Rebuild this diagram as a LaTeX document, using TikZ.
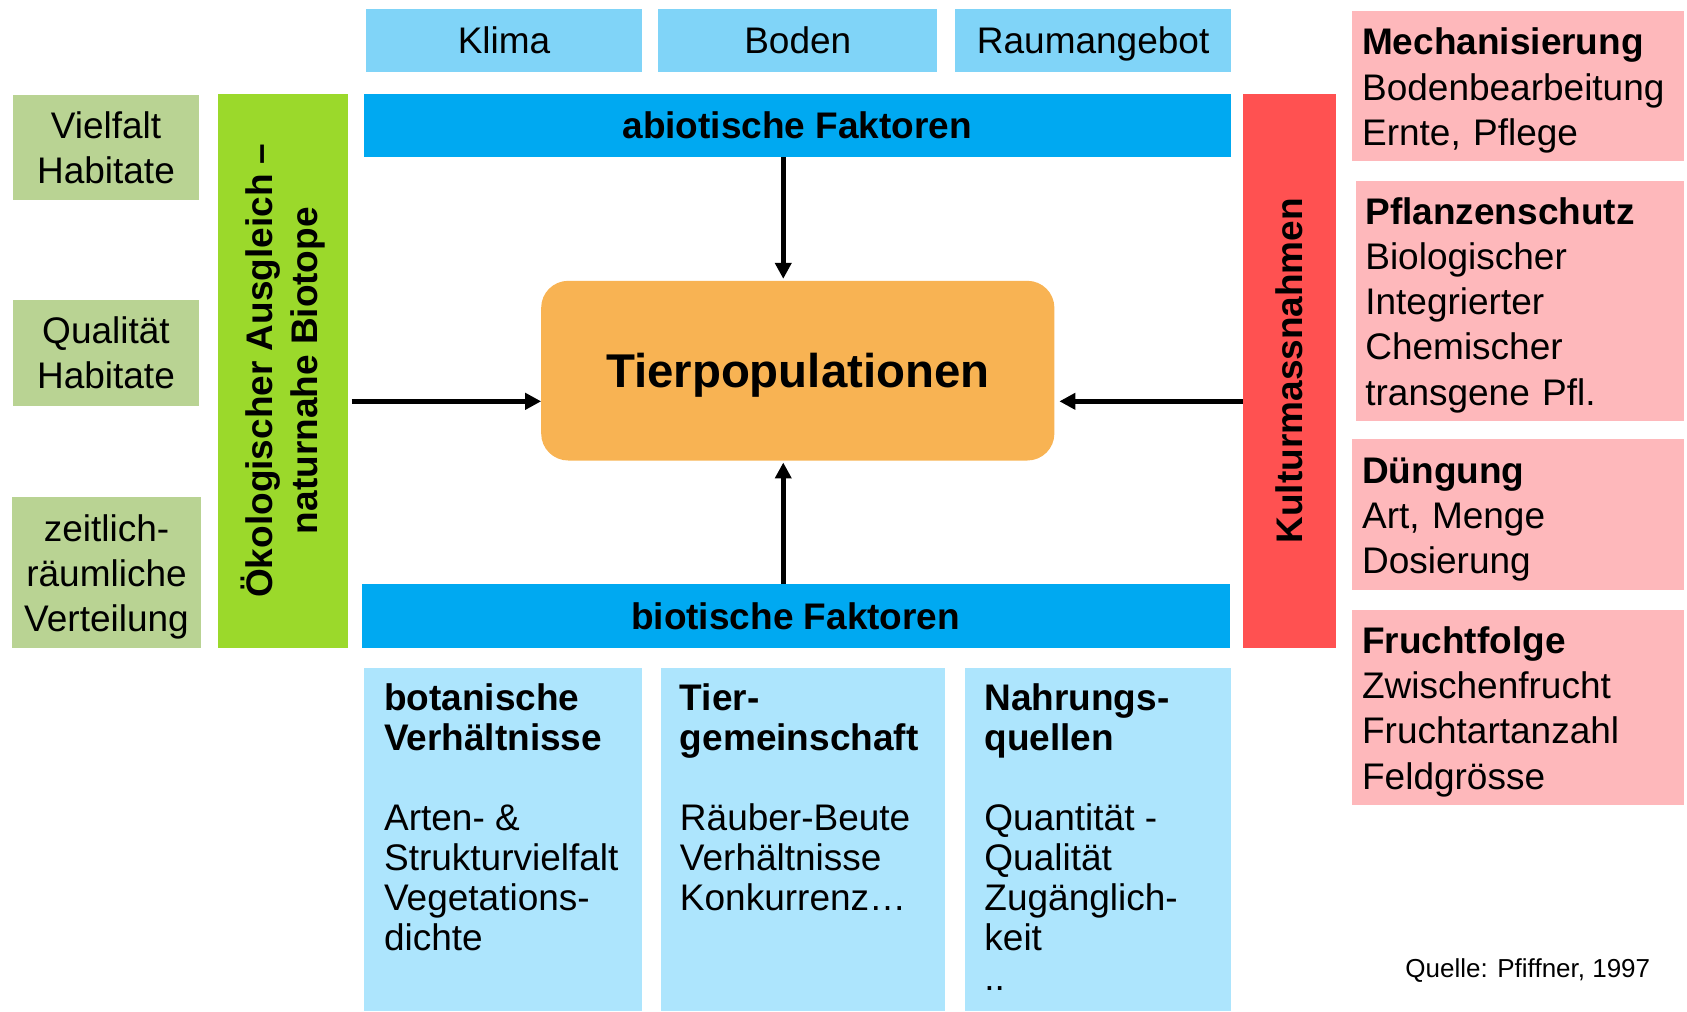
\documentclass[tikz,border=0pt]{standalone}
\usepackage{fontspec}
\setmainfont{Liberation Sans}
\usetikzlibrary{arrows.meta}
\definecolor{topblue}{HTML}{80D4F8}
\definecolor{barblue}{HTML}{00A9F1}
\definecolor{lowblue}{HTML}{ADE5FD}
\definecolor{lgreen}{HTML}{B9D393}
\definecolor{bgreen}{HTML}{9BD92B}
\definecolor{redbar}{HTML}{FF5151}
\definecolor{pinkbox}{HTML}{FEB8BB}
\definecolor{tierorange}{HTML}{F8B353}
\newcommand\basefont{\fontsize{18.5}{22.6}\selectfont}
\newcommand\topstrut{\rule{0pt}{17.8pt}}
\newcommand\mybox[7]{\node[#6, minimum width={(#4-#2)*0.538pt}, minimum height={(#5-#3)*0.538pt}] (#1) at ({(#2+#4)/2},{(#3+#5)/2}) {#7};}
\begin{document}
\begin{tikzpicture}[x=0.538pt,y=-0.538pt,
  every node/.style={inner sep=0pt, outer sep=0pt, font=\basefont},
  arr/.style={line width=2.6pt, -{Triangle[length=8pt,width=8pt]}},
  vtext/.style={rotate=90, align=center, font=\basefont\bfseries},
  topbox/.style={fill=topblue, text depth=0pt},
  pinkstyle/.style={fill=pinkbox, align=left},
  bottext/.style={anchor=base west}]
\useasboundingbox (0,0) rectangle (1568,940);
% top row
\mybox{klima}{340}{8}{597}{67}{topbox}{Klima}
\mybox{boden}{612}{8}{871}{67}{topbox}{Boden}
\mybox{raum}{888}{8}{1144}{67}{topbox}{Raumangebot}
\mybox{abio}{338}{87}{1144}{146}{fill=barblue, font=\basefont\bfseries}{abiotische Faktoren}
% left
\mybox{viel}{12}{88}{185}{186}{fill=lgreen, align=center}{Vielfalt\\Habitate}
\mybox{qual}{12}{279}{185}{377}{fill=lgreen, align=center}{Qualität\\Habitate}
\mybox{zeit}{11}{462}{187}{602}{fill=lgreen, align=center}{\topstrut zeitlich-\\räumliche\\Verteilung}
\mybox{oeko}{203}{87}{323}{602}{fill=bgreen}{}
\node[vtext] (oekotxt) at (oeko.center) {Ökologischer Ausgleich –\\naturnahe Biotope};
% centre
\mybox{tier}{503}{261}{980}{428}{fill=tierorange, rounded corners=13.5pt, text depth=0pt, font=\fontsize{23.7}{28}\selectfont\bfseries}{Tierpopulationen}
\mybox{bio}{336}{543}{1143}{602}{fill=barblue, font=\basefont\bfseries}{biotische Faktoren}
% bottom
\mybox{bot}{338}{621}{597}{940}{fill=lowblue}{}
\mybox{tiergem}{614}{621}{878}{940}{fill=lowblue}{}
\mybox{nahr}{897}{621}{1144}{940}{fill=lowblue}{}
\node[bottext] (bottxt) at (357,660) {\parbox[t]{132pt}{\fontsize{18.5}{20}\selectfont\raggedright
  \textbf{botanische}\\\textbf{Verhältnisse}\\\mbox{}\\Arten- \&\\Strukturvielfalt\\Vegetations-\\dichte}};
\node[bottext] (tiergemtxt) at (632,660) {\parbox[t]{132pt}{\fontsize{18.5}{20}\selectfont\raggedright
  \textbf{Tier-}\\\textbf{gemeinschaft}\\\mbox{}\\Räuber-Beute\\Verhältnisse\\Konkurrenz…}};
\node[bottext] (nahrtxt) at (915,660) {\parbox[t]{125pt}{\fontsize{18.5}{20}\selectfont\raggedright
  \textbf{Nahrungs-}\\\textbf{quellen}\\\mbox{}\\Quantität -\\Qualität\\Zugänglich-\\keit\\..}};
% right
\mybox{kultur}{1155}{87}{1242}{602}{fill=redbar}{}
\node[vtext] (kulturtxt) at (kultur.center) {Kulturmassnahmen};
\mybox{mech}{1257}{10}{1565}{150}{pinkstyle, text width=156pt}{\topstrut\textbf{Mechanisierung}\\Bodenbearbeitung\\Ernte, Pflege}
\mybox{pfl}{1260}{168}{1565}{391}{pinkstyle, text width=154.4pt}{\topstrut\textbf{Pflanzenschutz}\\Biologischer\\Integrierter\\Chemischer\\transgene Pfl.}
\mybox{dueng}{1257}{408}{1565}{548}{pinkstyle, text width=156pt}{\topstrut\textbf{Düngung}\\Art, Menge\\Dosierung}
\mybox{frucht}{1257}{567}{1565}{748}{pinkstyle, text width=156pt}{\topstrut\textbf{Fruchtfolge}\\Zwischenfrucht\\Fruchtartanzahl\\Feldgrösse}
\node (quelle) at (1420,902) {\fontsize{13}{15}\selectfont Quelle: Pfiffner, 1997};
% arrows
\coordinate (vx) at (728,0);
\coordinate (hy) at (0,373);
\draw[arr, shorten >=1pt] (abio.south -| vx) -- (tier.north -| vx);
\draw[arr, shorten >=1pt] (bio.north -| vx) -- (tier.south -| vx);
\draw[arr, shorten <=2pt] (oeko.east |- hy) -- (tier.west |- hy);
\draw[arr, shorten >=2.5pt] (kultur.west |- hy) -- (tier.east |- hy);
\end{tikzpicture}
\end{document}
